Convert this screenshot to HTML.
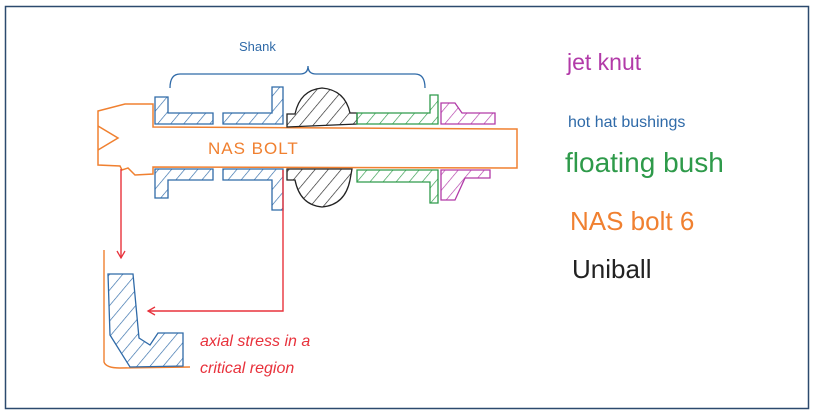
<!DOCTYPE html>
<html><head><meta charset="utf-8"><style>
html,body{margin:0;padding:0;background:#fff;}
svg{display:block;}
text{font-family:"Liberation Sans",sans-serif;}
</style></head><body>
<svg width="815" height="415" viewBox="0 0 815 415" xmlns="http://www.w3.org/2000/svg">
<defs>
<pattern id="hb" patternUnits="userSpaceOnUse" width="10" height="10" patternTransform="rotate(40)"><line x1="0" y1="0" x2="0" y2="10" stroke="#2f6aa8" stroke-width="1.3"/></pattern>
<pattern id="hk" patternUnits="userSpaceOnUse" width="10" height="10" patternTransform="rotate(40)"><line x1="0" y1="0" x2="0" y2="10" stroke="#222" stroke-width="1.3"/></pattern>
<pattern id="hg" patternUnits="userSpaceOnUse" width="10" height="10" patternTransform="rotate(40)"><line x1="0" y1="0" x2="0" y2="10" stroke="#2e9a4a" stroke-width="1.3"/></pattern>
<pattern id="hm" patternUnits="userSpaceOnUse" width="10" height="10" patternTransform="rotate(40)"><line x1="0" y1="0" x2="0" y2="10" stroke="#b23aa8" stroke-width="1.3"/></pattern>
<marker id="ar" markerWidth="10" markerHeight="10" refX="8" refY="5" orient="auto" markerUnits="userSpaceOnUse"><path d="M1,1 L8,5 L1,9" fill="none" stroke="#e8323c" stroke-width="1.3"/></marker>
</defs>
<rect x="5.5" y="6.5" width="803" height="402" fill="#fff" stroke="#2c4a6e" stroke-width="1.5"/>

<path d="M98,111 L125,104 L153,104 L153,127 L517,129 L517,168 L153,167 L153,174 L135,175 L128,168 L122,170 L120,166 L98,165 Z" fill="none" stroke="#f08030" stroke-width="1.5"/>
<path d="M98,126 L118,138 L98,150" fill="none" stroke="#f08030" stroke-width="1.5"/>
<text x="208" y="154" font-size="17" fill="#f08030" letter-spacing="1">NAS BOLT</text>

<path d="M170,88 Q170,74 180,74 L300,74 Q308,74 308,66 Q308,74 316,74 L415,74 Q425,74 425,88" fill="none" stroke="#2f6aa8" stroke-width="1.3"/>
<text x="239" y="51" font-size="13" fill="#2f6aa8">Shank</text>

<path d="M155,97 L168,97 L168,113 L213,113 L213,124 L155,124 Z" fill="url(#hb)" stroke="#2f6aa8" stroke-width="1.3"/>
<path d="M155,169 L213,169 L213,180 L168,180 L168,198 L155,198 Z" fill="url(#hb)" stroke="#2f6aa8" stroke-width="1.3"/>
<path d="M223,113 L272,113 L272,87 L283,87 L283,124 L223,124 Z" fill="url(#hb)" stroke="#2f6aa8" stroke-width="1.3"/>
<path d="M223,169 L283,169 L283,210 L272,210 L272,180 L223,180 Z" fill="url(#hb)" stroke="#2f6aa8" stroke-width="1.3"/>
<path d="M287,114 L295,114 Q300,90 322,88 Q345,90 350,113 L357,113 L357,124 L287,127 Z" fill="url(#hk)" stroke="#222" stroke-width="1.3"/>
<path d="M287,169 L352,169 L350,180 Q345,205 322,207 Q300,205 295,180 L287,180 Z" fill="url(#hk)" stroke="#222" stroke-width="1.3"/>
<path d="M357,113 L430,113 L430,95 L438,95 L438,124 L357,124 Z" fill="url(#hg)" stroke="#2e9a4a" stroke-width="1.3"/>
<path d="M357,170 L438,170 L438,203 L430,203 L430,182 L357,182 Z" fill="url(#hg)" stroke="#2e9a4a" stroke-width="1.3"/>
<path d="M441,103 L455,103 L462,113 L495,113 L495,124 L441,124 Z" fill="url(#hm)" stroke="#b23aa8" stroke-width="1.3"/>
<path d="M441,170 L490,170 L490,178 L465,178 L455,200 L441,200 Z" fill="url(#hm)" stroke="#b23aa8" stroke-width="1.3"/>

<path d="M121,169 L121,258" fill="none" stroke="#e8323c" stroke-width="1.4" marker-end="url(#ar)"/>
<path d="M283,170 L283,311 L148,311" fill="none" stroke="#e8323c" stroke-width="1.4" marker-end="url(#ar)"/>

<path d="M104,250 L104,362 Q106,368 120,368 L190,367" fill="none" stroke="#f08030" stroke-width="1.4"/>
<path d="M108,274 L133,274 L139,338 L150,345 L158,333 L183,333 L183,366 L130,367 L110,335 Z" fill="url(#hb)" stroke="#2f6aa8" stroke-width="1.3"/>
<text x="200" y="346" font-size="16" fill="#e8323c" font-style="italic">axial stress in a</text>
<text x="200" y="373" font-size="16" fill="#e8323c" font-style="italic">critical region</text>

<text x="567" y="70" font-size="23" fill="#b23aa8">jet knut</text>
<text x="568" y="127" font-size="16" fill="#2f6aa8">hot hat bushings</text>
<text x="565" y="172" font-size="28" fill="#2e9a4a">floating bush</text>
<text x="570" y="230" font-size="26" fill="#f08030">NAS bolt 6</text>
<text x="572" y="278" font-size="26" fill="#222">Uniball</text>
</svg>
</body></html>
